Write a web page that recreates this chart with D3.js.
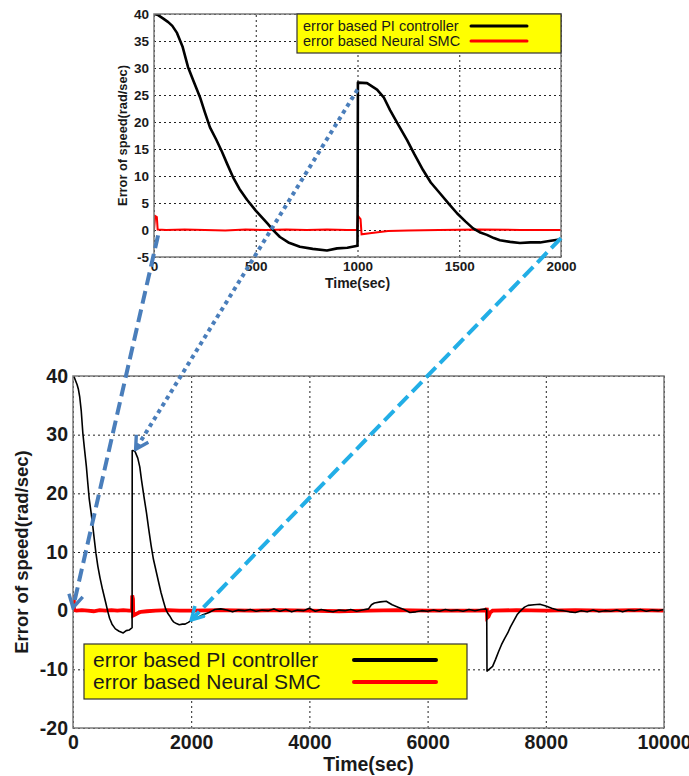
<!DOCTYPE html>
<html>
<head>
<meta charset="utf-8">
<script src="https://cdn.jsdelivr.net/npm/d3@7"></script>
<style>
  body { margin: 0; background: #fff; }
  svg { display: block; font-family: "Liberation Sans", Arial, sans-serif; }
</style>
</head>
<body>
<div id="chart-area"></div>
<script>
// speed error of the PI controller (rad/sec) against time (sec)
const piTime = [0, 20, 44, 70, 90, 113, 140, 167, 195, 226, 250, 275, 305, 334, 360, 388, 420, 457, 500, 555, 590, 619, 660, 717, 780, 850, 900, 950, 1000,
  1002, 1047, 1096, 1130, 1160, 1200, 1243, 1280, 1322, 1360, 1405, 1450, 1489, 1530, 1568, 1600, 1636, 1670, 1700, 1750, 1798, 1850, 1897, 1950, 2000,
  2100, 2200, 2300, 2400, 2500, 2600, 2700, 2800, 2900, 3000, 3100, 3200, 3300, 3400, 3500, 3600, 3700, 3800, 3900, 4000,
  4100, 4200, 4300, 4400, 4500, 4600, 4700, 4800, 4900, 5000, 5050, 5100, 5200, 5300, 5400, 5500, 5600, 5700, 5800, 5900, 6000,
  6100, 6200, 6300, 6400, 6500, 6600, 6700, 6800, 6900, 6980, 7000, 7005, 7100, 7150, 7200, 7250, 7300, 7356, 7400, 7460, 7520, 7576, 7640, 7700,
  7800, 7900, 8000, 8100, 8200, 8300, 8400, 8500, 8600, 8700, 8800, 8900, 9000, 9100, 9200, 9300, 9400, 9500, 9600, 9700, 9800, 9900, 10000]
const piError = [40, 39.8, 39.2, 38.5, 37.8, 36.5, 34, 30.2, 27.5, 24.6, 21.8, 19, 16.8, 14.5, 12.2, 9.8, 7.6, 5.6, 3.6, 1.3, -0.2, -1.3, -2.3, -3.1, -3.5, -3.8, -3.4, -3.3, -2.9,
  27.3, 27.2, 26, 24.5, 22.2, 19.5, 16.7, 14, 11.1, 8.8, 6.8, 4.8, 3.1, 1.6, 0.3, -0.4, -0.9, -1.5, -1.9, -2.2, -2.4, -2.3, -2.3, -2.0, -1.7,
  -1.2, -0.7, -0.3, 0.2, 0.3, 0.1, -0.2, 0.1, 0.0, 0.2, -0.1, 0.1, 0.0, 0.3, -0.1, 0.2, -0.2, 0.1, 0.0, 0.4,
  -0.1, 0.2, 0.0, -0.2, 0.1, 0.0, 0.2, -0.1, 0.1, 0.3, 1.0, 1.3, 1.5, 1.6, 1.0, 0.6, 0.2, -0.3, -0.2, 0.0, -0.1,
  0.1, -0.1, 0.2, 0.0, 0.1, -0.1, 0.2, 0.0, 0.2, 0.3, 0.2, -10.3, -9.5, -8.3, -7.0, -5.8, -4.8, -3.8, -2.8, -1.7, -0.6, 0.0, 0.6, 0.9,
  1.0, 1.1, 0.8, 0.4, 0.1, 0.0, -0.2, -0.3, 0.0, -0.2, 0.1, -0.2, 0.0, -0.1, 0.1, -0.2, 0.1, 0.0, 0.2, -0.1, 0.1, 0.0, 0.2]

// speed error of the neural sliding mode controller
const smcTime = [0, 6, 14, 18, 60, 150, 250, 350, 450, 550, 650, 750, 850, 950, 998, 1002, 1015, 1020, 1060, 1100, 1150, 1250, 1400, 1600, 1800, 2000,
  2500, 3000, 3500, 4000, 4500, 5000, 5500, 6000, 6500, 6998, 7002, 7008, 7030, 7060, 7100, 7500, 8000, 8500, 9000, 9500, 10000]
const smcError = [0, 2.6, 2.4, 0.1, 0, 0.1, 0, -0.1, 0.1, 0, 0.1, 0, 0.1, 0, 0, 2.6, 2.0, -0.8, -0.6, -0.4, -0.2, -0.1, 0, 0.1, 0, 0,
  0.1, 0, 0.1, 0, -0.1, 0, 0.1, 0, 0, 0, 0.5, -1.2, -1.0, -0.3, 0, 0.1, 0, 0.1, 0, 0.1, 0]

const zoomXTicks = [0, 500, 1000, 1500, 2000]
const zoomYTicks = [-5, 0, 5, 10, 15, 20, 25, 30, 35, 40]
const mainXTicks = [0, 2000, 4000, 6000, 8000, 10000]
const mainYTicks = [-20, -10, 0, 10, 20, 30, 40]
const legendLabels = ["error based PI controller", "error based Neural SMC"]
const seriesColors = ["#000000", "#ff0000"]

// arrows: [from point in zoom panel, to point in main panel]
const arrowFrom = [[20, -1], [1000, 26], [2000, -1.5]]
const arrowTo = [[0, 0.5], [1060, 27.5], [2000, -1.6]]
const arrowColors = ["#4a7ebb", "#4a7ebb", "#22aee6"]
const arrowDash = ["13,6", "4,4", "14,6"]

const svg = d3.select("#chart-area").append("svg")
  .attr("width", 689)
  .attr("height", 776)

function drawPanel(o) {
  const g = svg.append("g").attr("transform", `translate(${o.left}, ${o.top})`)
  const x = d3.scaleLinear().domain(o.xDomain).range([0, o.width])
  const y = d3.scaleLinear().domain(o.yDomain).range([o.height, 0])

  // grid
  g.append("g")
    .attr("transform", `translate(0, ${o.height})`)
    .call(d3.axisBottom(x).tickValues(o.xTicks).tickSize(-o.height).tickFormat(""))
    .call(s => s.select(".domain").remove())
    .selectAll("line").attr("stroke", "#222").attr("stroke-dasharray", "2,3")
  g.append("g")
    .call(d3.axisLeft(y).tickValues(o.yTicks).tickSize(-o.width).tickFormat(""))
    .call(s => s.select(".domain").remove())
    .selectAll("line").attr("stroke", "#222").attr("stroke-dasharray", "2,3")

  // tick labels (plain hyphen minus, no thousands separator)
  g.append("g")
    .attr("transform", `translate(0, ${o.height})`)
    .call(d3.axisBottom(x).tickValues(o.xTicks).tickSize(0).tickPadding(o.xPad).tickFormat(d => String(d)))
    .call(s => s.select(".domain").remove())
    .selectAll("text")
      .attr("font-size", o.tickFont)
      .attr("font-weight", "bold")
      .attr("font-family", "Liberation Sans, Arial, sans-serif")
      .attr("fill", "#1a1a1a")
  g.append("g")
    .call(d3.axisLeft(y).tickValues(o.yTicks).tickSize(0).tickPadding(o.yPad).tickFormat(d => String(d)))
    .call(s => s.select(".domain").remove())
    .selectAll("text")
      .attr("font-size", o.tickFont)
      .attr("font-weight", "bold")
      .attr("font-family", "Liberation Sans, Arial, sans-serif")
      .attr("fill", "#1a1a1a")

  // series
  const clipId = "clip-" + o.name
  g.append("clipPath").attr("id", clipId)
    .append("rect").attr("width", o.width).attr("height", o.height)
  const lines = g.append("g").attr("clip-path", `url(#${clipId})`)
  const line = d3.line().x(d => x(d[0])).y(d => y(d[1]))
  lines.append("path")
    .datum(d3.zip(smcTime, smcError))
    .attr("d", line)
    .attr("fill", "none")
    .attr("stroke", seriesColors[1])
    .attr("stroke-width", o.smcWidth)
  lines.append("path")
    .datum(d3.zip(piTime, piError))
    .attr("d", line)
    .attr("fill", "none")
    .attr("stroke", seriesColors[0])
    .attr("stroke-width", o.piWidth)
    .attr("stroke-linejoin", "round")

  // frame
  g.append("rect")
    .attr("width", o.width)
    .attr("height", o.height)
    .attr("fill", "none")
    .attr("stroke", "#7a7a7a")
    .attr("stroke-width", 1.5)

  // axis titles
  g.append("text")
    .attr("x", o.width / 2)
    .attr("y", o.xLabelY)
    .attr("text-anchor", "middle")
    .attr("font-size", o.labelFont)
    .attr("font-weight", "bold")
    .attr("fill", "#1a1a1a")
    .text("Time(sec)")
  g.append("text")
    .attr("transform", "rotate(-90)")
    .attr("x", -o.height / 2)
    .attr("y", o.yLabelX)
    .attr("text-anchor", "middle")
    .attr("font-size", o.yLabelFont)
    .attr("font-weight", "bold")
    .attr("fill", "#1a1a1a")
    .text("Error of speed(rad/sec)")

  // legend
  const L = o.legend
  const lg = g.append("g").attr("transform", `translate(${L.x}, ${L.y})`)
  lg.append("rect")
    .attr("width", L.w)
    .attr("height", L.h)
    .attr("fill", "#ffff00")
    .attr("stroke", "#333")
    .attr("stroke-width", 1.2)
  legendLabels.forEach((t, i) => {
    lg.append("text")
      .attr("x", L.textX)
      .attr("y", L.row0 + i * L.rowStep)
      .attr("dy", "0.35em")
      .attr("font-size", L.font)
      .attr("fill", "#1a1a1a")
      .text(t)
    lg.append("line")
      .attr("x1", L.lineX0).attr("x2", L.lineX1)
      .attr("y1", L.row0 + i * L.rowStep).attr("y2", L.row0 + i * L.rowStep)
      .attr("stroke", seriesColors[i])
      .attr("stroke-width", L.lineW)
      .attr("stroke-linecap", "round")
  })

  return { x, y, left: o.left, top: o.top }
}

const zoomPanel = drawPanel({
  name: "zoom", left: 154, top: 14, width: 407, height: 243,
  xDomain: [0, 2000], yDomain: [-5, 40], xTicks: zoomXTicks, yTicks: zoomYTicks,
  tickFont: 13.5, xPad: 4, yPad: 5, labelFont: 14, yLabelFont: 12.8,
  xLabelY: 274, yLabelX: -27,
  piWidth: 2.6, smcWidth: 2,
  legend: { x: 143, y: 0, w: 264, h: 39, textX: 6, row0: 12, rowStep: 15, font: 14.5,
    lineX0: 174, lineX1: 230, lineW: 3 }
})

const mainPanel = drawPanel({
  name: "main", left: 73, top: 376, width: 591, height: 352,
  xDomain: [0, 10000], yDomain: [-20, 40], xTicks: mainXTicks, yTicks: mainYTicks,
  tickFont: 19.5, xPad: 7, yPad: 5, labelFont: 19.5, yLabelFont: 18.5,
  xLabelY: 395, yLabelX: -45,
  piWidth: 1.6, smcWidth: 3.8,
  legend: { x: 11, y: 268, w: 383, h: 55, textX: 9, row0: 16, rowStep: 22, font: 21,
    lineX0: 270, lineX1: 352, lineW: 4 }
})

// annotation arrows linking the zoomed view to the full view
const defs = svg.append("defs")
arrowColors.forEach((c, i) => {
  defs.append("marker")
    .attr("id", "head" + i)
    .attr("viewBox", "0 0 12 12")
    .attr("refX", 10.5).attr("refY", 6)
    .attr("markerWidth", 17).attr("markerHeight", 17)
    .attr("markerUnits", "userSpaceOnUse")
    .attr("orient", "auto")
    .append("path")
      .attr("d", "M1.5,1 L10.5,6 L1.5,11")
      .attr("fill", "none")
      .attr("stroke", c)
      .attr("stroke-width", 2.4)
})

svg.append("g").selectAll("line")
  .data(arrowFrom.map((f, i) => ({ f, t: arrowTo[i], i })))
  .join("line")
    .attr("x1", d => zoomPanel.left + zoomPanel.x(d.f[0]))
    .attr("y1", d => zoomPanel.top + zoomPanel.y(d.f[1]))
    .attr("x2", d => mainPanel.left + mainPanel.x(d.t[0]))
    .attr("y2", d => mainPanel.top + mainPanel.y(d.t[1]))
    .attr("stroke", d => arrowColors[d.i])
    .attr("stroke-width", 4)
    .attr("stroke-dasharray", d => arrowDash[d.i])
    .attr("marker-end", d => `url(#head${d.i})`)
</script>
</body>
</html>
